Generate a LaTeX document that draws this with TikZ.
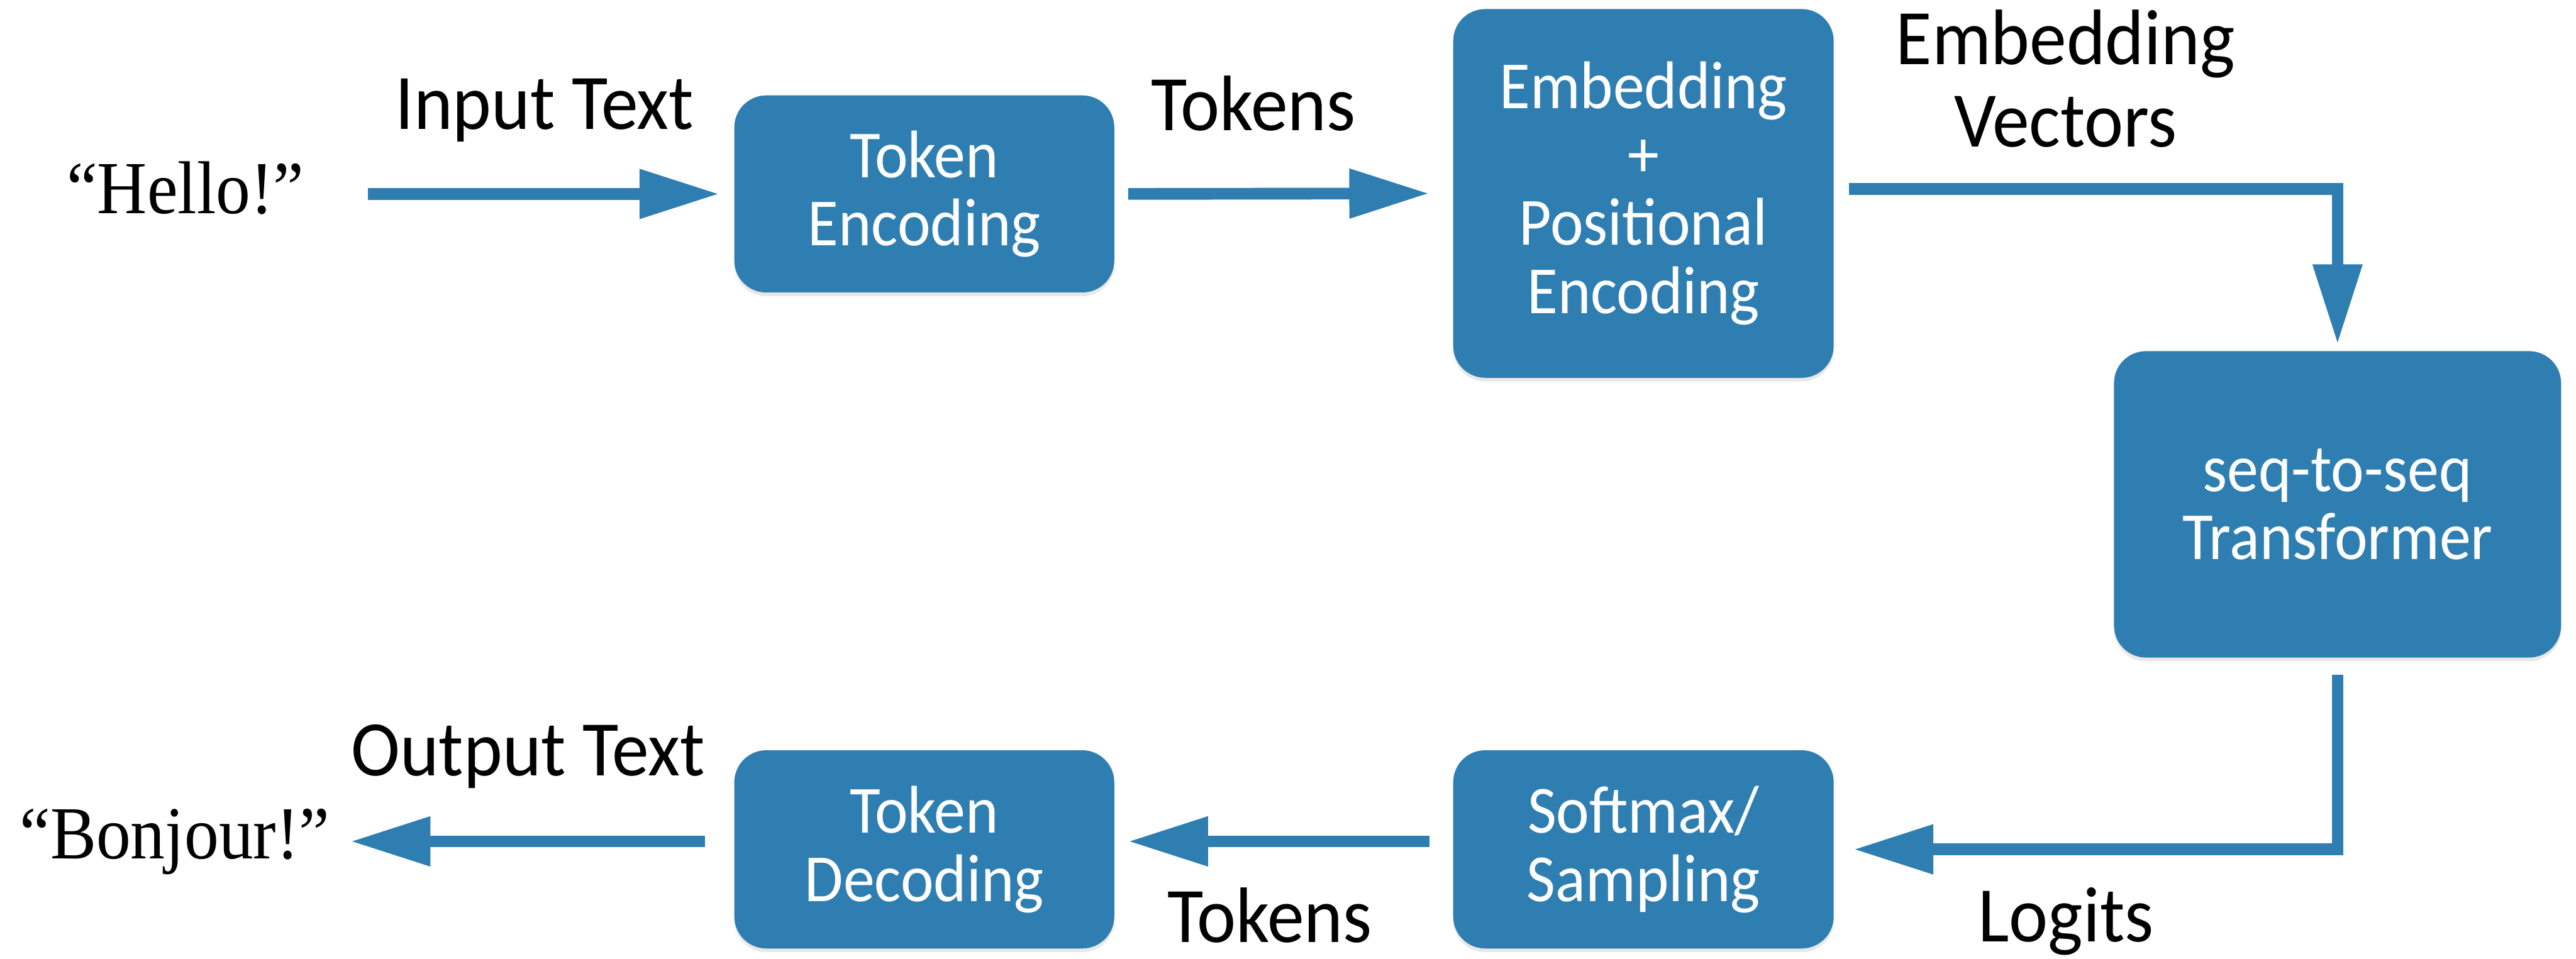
\documentclass[tikz,border=0pt]{standalone}
\usepackage{fontspec}
\newfontfamily\labelfont[FakeStretch=0.94]{Carlito}
\newfontfamily\boxfont[FakeStretch=0.93]{Carlito}
\newfontfamily\quotefont[FakeStretch=0.92]{Liberation Serif}
\usepackage{tikz}
\usetikzlibrary{arrows.meta,calc,shadows}
\definecolor{boxblue}{RGB}{47,126,177}

\begin{document}
\begin{tikzpicture}[
  blk/.style={fill=boxblue, rounded corners=0.6cm, inner sep=0, outer sep=0,
    text=white, align=center, font=\boxfont\fontsize{36}{36.5}\selectfont,
    drop shadow={opacity=0.18, shadow xshift=0cm, shadow yshift=-0.07cm}},
  flow/.style={draw=boxblue, line width=0.22cm, line join=miter,
    -{Triangle[length=1.5cm,width=0.88cm]}},
  lbl/.style={anchor=base, inner sep=0, align=center,
    font=\labelfont\fontsize{42}{44}\selectfont},
  saying/.style={anchor=base, inner sep=0, font=\quotefont\fontsize{40}{40}\selectfont}
]
\useasboundingbox (0,0) rectangle (48.34,-17.99);

% blocks
\node[blk, minimum width=7.13cm, minimum height=3.70cm] (enc) at (17.345,-3.64) {Token\\Encoding};
\node[blk, minimum width=7.14cm, minimum height=6.92cm] (emb) at (30.84,-3.63) {Embedding\\+\\Positional\\Encoding};
\node[blk, minimum width=8.39cm, minimum height=5.75cm] (tf) at (43.865,-9.465) {seq-to-seq\\Transformer};
\node[blk, minimum width=7.14cm, minimum height=3.72cm] (soft) at (30.84,-15.94) {Softmax/\\Sampling};
\node[blk, minimum width=7.13cm, minimum height=3.72cm] (dec) at (17.345,-15.94) {Token\\Decoding};

% input and output text
\node[saying] (hello) at (3.48,-4.01) {“Hello!”};
\node[saying] (bonjour) at (3.28,-16.12) {“Bonjour!”};

% labels
\node[lbl] (lblin) at (10.22,-2.43) {Input Text};
\node[lbl] (lbltok) at (23.52,-2.45) {Tokens};
\node[lbl, anchor=south] (lblemb) at (38.76,-2.77) {Embedding\\Vectors};
\node[lbl] (lbllog) at (38.77,-17.67) {Logits};
\node[lbl] (lbltok2) at (23.83,-17.68) {Tokens};
\node[lbl] (lblout) at (9.91,-14.56) {Output Text};

% arrows
\draw[flow, shorten <=1.19cm, shorten >=0.28cm] (hello.east |- enc.west) -- (enc.west);
\draw[flow, shorten <=0.26cm, shorten >=0.45cm] (enc.east) -- (emb.west);
\draw[flow, shorten <=0.29cm, shorten >=0.13cm] ([yshift=0.08cm]emb.east) -| (tf.north);
\draw[flow, shorten <=0.32cm, shorten >=0.37cm] (tf.south) |- (soft.east);
\draw[flow, shorten <=0.44cm, shorten >=0.26cm] ([yshift=0.15cm]soft.west) -- ([yshift=0.15cm]dec.east);
\draw[flow, shorten <=0.55cm, shorten >=0.38cm] ([yshift=0.15cm]dec.west) -- ($(dec.west -| bonjour.east)+(0,0.15)$);
\end{tikzpicture}
\end{document}
